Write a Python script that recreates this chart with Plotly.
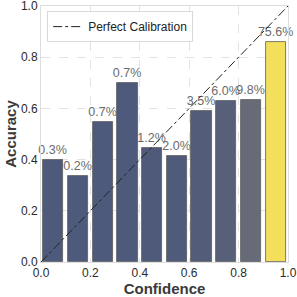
import plotly.graph_objects as go

bin_centers = [0.05, 0.15, 0.25, 0.35, 0.45, 0.55, 0.65, 0.75, 0.85, 0.95]
accuracy = [0.40, 0.335, 0.545, 0.70, 0.445, 0.415, 0.59, 0.628, 0.634, 0.861]
proportion_labels = ["0.3%", "0.2%", "0.7%", "0.7%", "1.2%", "2.0%", "3.5%", "6.0%", "9.8%", "75.6%"]
bar_colors = ["#4e5a7b", "#4e5a7b", "#4e5a7b", "#4e5a7b", "#4f5a7b", "#505b7b",
              "#535d7a", "#575f79", "#676b78", "#f3df5c"]
diag_x = [0, 1]
diag_y = [0, 1]

FONT = "Liberation Sans, Arial"

fig = go.Figure()
fig.add_trace(go.Bar(
    x=bin_centers, y=accuracy, width=0.082,
    marker=dict(color=bar_colors, line=dict(color="#5a5a5a", width=0.8)),
    text=proportion_labels, textposition="outside", cliponaxis=False,
    constraintext="none",
    textfont=dict(family=FONT, size=12.5, color="#6b6b6b"),
    showlegend=False,
))
fig.add_trace(go.Scatter(
    x=diag_x, y=diag_y, mode="lines", name="Perfect Calibration",
    line=dict(color="#222222", width=1, dash="dashdot"),
))

axis_common = dict(
    range=[0, 1], tickvals=[0, 0.2, 0.4, 0.6, 0.8, 1.0],
    ticktext=["0.0", "0.2", "0.4", "0.6", "0.8", "1.0"],
    showgrid=True, gridcolor="#e3e3e3", griddash="dash", gridwidth=1,
    showline=True, linecolor="#dddddd", linewidth=1, mirror=True,
    zeroline=False, ticks="", automargin=False, ticklabeloverflow="allow",
    tickfont=dict(family=FONT, size=12, color="#2a2a2a"),
)
fig.update_xaxes(**axis_common, title=dict(text="<b>Confidence</b>", standoff=0,
                 font=dict(family=FONT, size=15, color="#3a3a3a")))
fig.update_yaxes(**axis_common, title=dict(text="<b>Accuracy</b>", standoff=0,
                 font=dict(family=FONT, size=15, color="#3a3a3a")))

fig.update_layout(
    width=297, height=297,
    margin=dict(l=41, r=9, t=6, b=35, autoexpand=False),
    plot_bgcolor="white", paper_bgcolor="white",
    bargap=0,
    legend=dict(x=0.025, y=0.98, xanchor="left", yanchor="top",
                bgcolor="rgba(255,255,255,0.9)", bordercolor="#d9d9d9", borderwidth=1,
                font=dict(family=FONT, size=12, color="#222222"),
                itemwidth=30),
)
fig.write_html("out.html", config={"displayModeBar": False},
               post_script="document.body.style.margin='0';")
